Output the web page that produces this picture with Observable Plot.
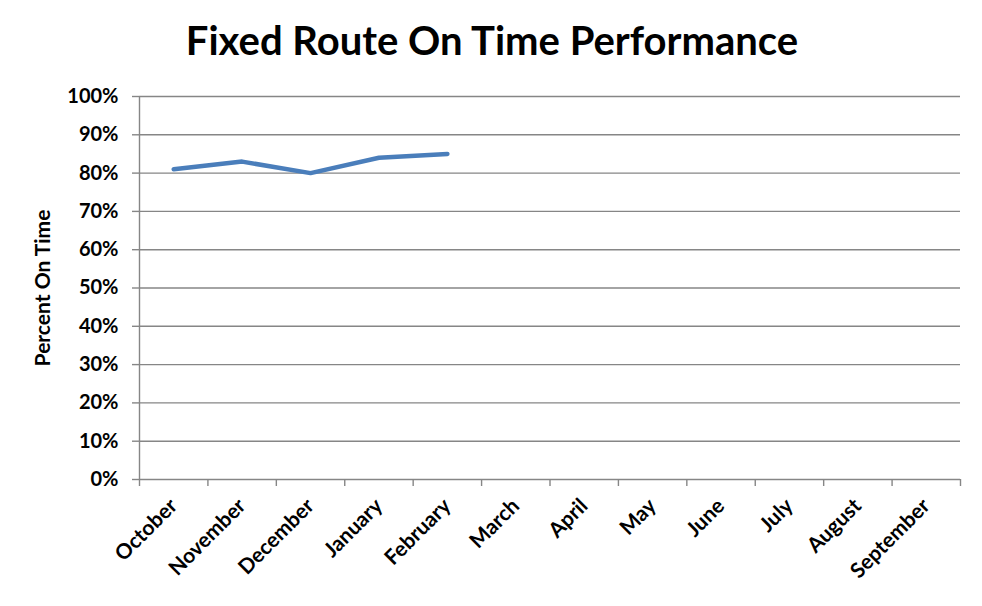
<!DOCTYPE html>
<html>
<head>
<meta charset="utf-8">
<script src="https://cdn.jsdelivr.net/npm/d3@7"></script>
<script src="https://cdn.jsdelivr.net/npm/@observablehq/plot@0.6"></script>
<style>
  html, body { margin: 0; padding: 0; background: #fff; }
  #title { height: 80px; line-height: 80px; text-align: center; font-family: Lato, "Open Sans", sans-serif; font-weight: bold; font-size: 40px; color: #000; width: 982px; padding-left: 2px; box-sizing: border-box; white-space: nowrap; }
  #chart svg { display: block; }
</style>
</head>
<body>
<div id="title">Fixed Route On Time Performance</div>
<div id="chart"></div>
<script>
const months = ["October","November","December","January","February","March","April","May","June","July","August","September"];
const observedMonths = ["October","November","December","January","February"];
const onTime = [0.81, 0.83, 0.80, 0.84, 0.85];
const yTicks = [0,0.1,0.2,0.3,0.4,0.5,0.6,0.7,0.8,0.9,1.0];
const yLabel = "Percent On Time";

const data = observedMonths.map((m, i) => ({idx: months.indexOf(m) + 0.5, value: onTime[i]}));
const centers = months.map((m, i) => i + 0.5);
const bounds = d3.range(0, months.length + 1);

const font = "Lato, 'Open Sans', sans-serif";
const grid = "#868686";

const chart = Plot.plot({
  width: 982,
  height: 526,
  marginTop: 16,
  marginBottom: 127,
  marginLeft: 139,
  marginRight: 22,
  style: {fontFamily: font, fontSize: "20px", fontWeight: "bold", color: "#000", background: "#fff", overflow: "visible"},
  x: {type: "linear", domain: [0, months.length]},
  y: {domain: [0, 1]},
  marks: [
    Plot.ruleY(yTicks, {stroke: grid, strokeWidth: 1.4}),
    Plot.ruleX([0], {stroke: grid, strokeWidth: 1.4}),
    Plot.axisY({ticks: yTicks, tickFormat: d3.format(".0%"), tickSize: 7, tickPadding: 14, stroke: grid, strokeWidth: 1.4, strokeOpacity: 1, label: null, fontSize: 20, fontWeight: "bold"}),
    Plot.axisX({ticks: bounds, tickFormat: () => "", tickSize: 7, stroke: grid, strokeWidth: 1.4, strokeOpacity: 1, label: null}),
    Plot.axisX({ticks: centers, tickFormat: (d) => months[Math.floor(d)], tickSize: 0, tickPadding: 23, tickRotate: -45, label: null, fontSize: 21, fontWeight: "bold"}),
    Plot.text([yLabel], {frameAnchor: "left", textAnchor: "middle", dx: -96, rotate: -90, fontSize: 21, fontWeight: "bold", fill: "#000"}),
    Plot.line(data, {x: "idx", y: "value", stroke: "#4a7ebb", strokeWidth: 4.5, strokeLinecap: "round", strokeLinejoin: "round"})
  ]
});
document.getElementById("chart").appendChild(chart);
</script>
</body>
</html>
